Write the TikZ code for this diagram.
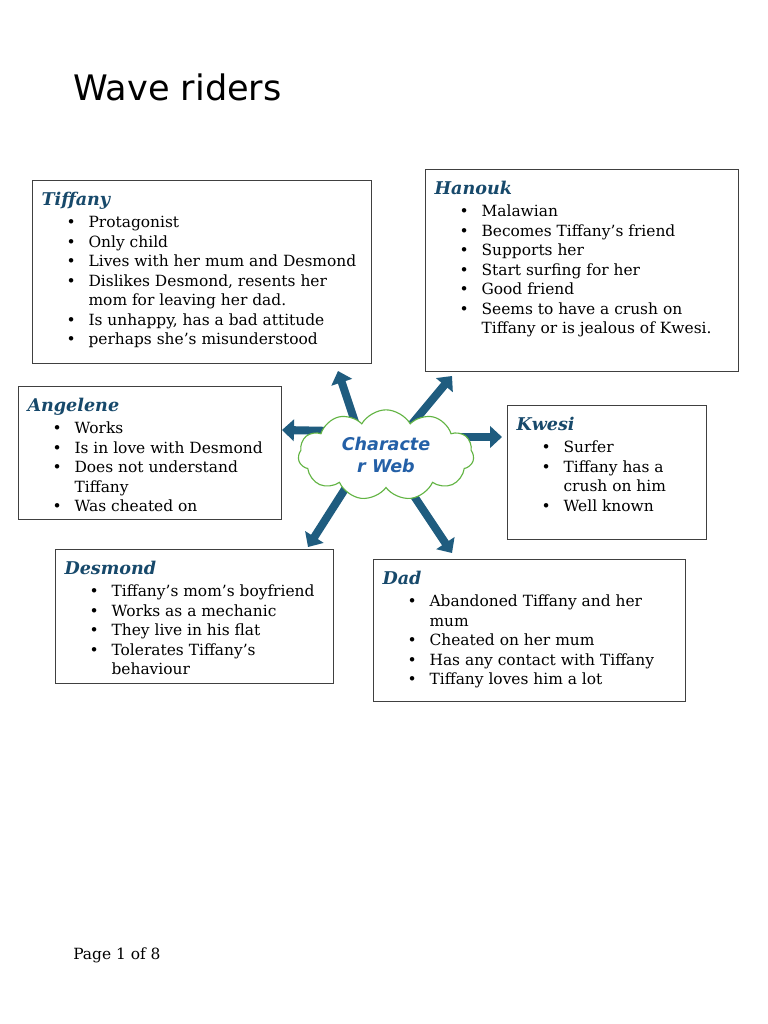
\documentclass[tikz,border=0pt]{standalone}
\usepackage{fontspec}
\setmainfont{DejaVu Serif}
\newfontfamily\titlefont{DejaVu Sans}
\usetikzlibrary{shapes.symbols,arrows.meta}

\definecolor{headblue}{HTML}{17496B}
\definecolor{webblue}{HTML}{2460A7}
\definecolor{arrowblue}{HTML}{1F5C7F}
\definecolor{cloudgreen}{HTML}{62B443}

% box contents: width, height, heading, items
\newcommand\charhead[1]{{\fontsize{14}{17}\selectfont\bfseries\itshape\color{headblue}\rule{0pt}{20.3pt}#1\par}\vspace{1.5pt}}
\newcommand\charitem[1]{\par\noindent\hangindent=37.5pt\hangafter=1\hspace*{20pt}\makebox[17.5pt][l]{\textbullet}#1\par}
\newcommand\charbox[3]{\begin{minipage}[t][#2][t]{#1}\raggedright\fontsize{12.3}{15.6}\selectfont\charhead{#3}}

\tikzset{
  charnode/.style={draw=black!75,line width=0.8pt,fill=white,inner xsep=7.2pt,inner ysep=0pt,anchor=north west},
  webarrow/.style={draw=arrowblue,line width=6.4pt,-{Triangle[length=9.5pt,width=17pt]}}
}

\begin{document}
\begin{tikzpicture}[x=0.797pt,y=-0.797pt]
\fill[white] (0,0) rectangle (768,1024);
\useasboundingbox (0,0) rectangle (768,1024);

% Title and footer
\node[anchor=base west,inner sep=0pt,font=\titlefont\fontsize{28}{34}\selectfont] (title) at (73,100) {Wave riders};
\node[anchor=base west,inner sep=0pt,font=\fontsize{12.3}{14}\selectfont] (page) at (73,959) {Page 1 of 8};

% Character boxes
\node[charnode] (tiffany) at (32,180) {\charbox{255.8pt}{145.9pt}{Tiffany}
  \charitem{Protagonist}
  \charitem{Only child}
  \charitem{Lives with her mum and Desmond}
  \charitem{Dislikes Desmond, resents her\newline mom for leaving her dad.}
  \charitem{Is unhappy, has a bad attitude}
  \charitem{perhaps she’s misunderstood}
\end{minipage}};
\node[charnode] (hanouk) at (425,169) {\charbox{235.1pt}{161pt}{Hanouk}
  \charitem{Malawian}
  \charitem{Becomes Tiffany’s friend}
  \charitem{Supports her}
  \charitem{Start surfing for her}
  \charitem{Good friend}
  \charitem{Seems to have a crush on\newline Tiffany or is jealous of Kwesi.}
\end{minipage}};
\node[charnode] (angelene) at (18,386) {\charbox{195.2pt}{106pt}{Angelene}
  \charitem{Works}
  \charitem{Is in love with Desmond}
  \charitem{Does not understand\newline Tiffany}
  \charitem{Was cheated on}
\end{minipage}};
\node[charnode] (kwesi) at (507,405) {\charbox{144.2pt}{106.8pt}{Kwesi}
  \charitem{Surfer}
  \charitem{Tiffany has a\newline crush on him}
  \charitem{Well known}
\end{minipage}};
\node[charnode] (desmond) at (55,549) {\charbox{207.2pt}{106.8pt}{Desmond}
  \charitem{Tiffany’s mom’s boyfriend}
  \charitem{Works as a mechanic}
  \charitem{They live in his flat}
  \charitem{Tolerates Tiffany’s\newline behaviour}
\end{minipage}};
\node[charnode] (dad) at (373,559) {\charbox{234.3pt}{113.2pt}{Dad}
  \charitem{Abandoned Tiffany and her\newline mum}
  \charitem{Cheated on her mum}
  \charitem{Has any contact with Tiffany}
  \charitem{Tiffany loves him a lot}
\end{minipage}};

% Arrows out of the web
\coordinate (a1) at (357,428); \coordinate (t1) at (338,371);
\coordinate (a2) at (412,424); \coordinate (t2) at (452,376);
\coordinate (a3) at (335,431); \coordinate (t3) at (282,430);
\coordinate (a4) at (455,437); \coordinate (t4) at (502,437);
\coordinate (a5) at (352,478); \coordinate (t5) at (308,547);
\coordinate (a6) at (402,478); \coordinate (t6) at (452,553);
\foreach \i in {1,...,6}
  \draw[webarrow] (a\i) -- (t\i);

% Character web cloud
\node[cloud,cloud puffs=11,cloud puff arc=120,aspect=2,draw=cloudgreen,line width=0.9pt,fill=white,
  minimum width=140pt,minimum height=72pt,inner sep=0pt,align=center,text=webblue,
  font=\titlefont\fontsize{14}{17.5}\selectfont\bfseries\itshape] (web) at (386,455) {Characte\\r Web};
\end{tikzpicture}
\end{document}
